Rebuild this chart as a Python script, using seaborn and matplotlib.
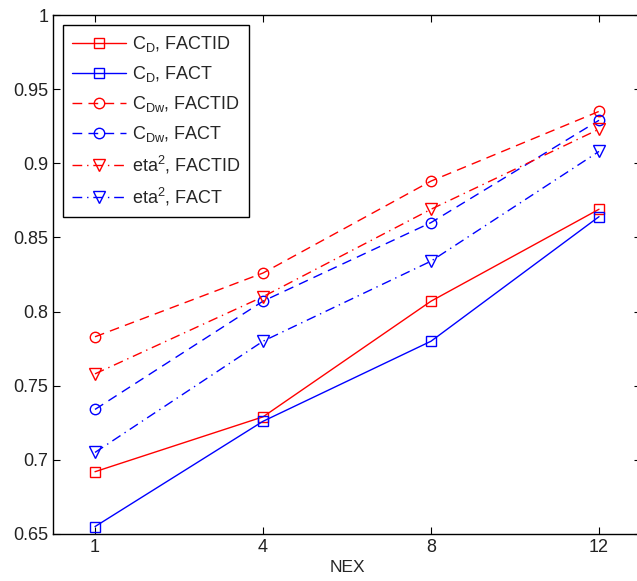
import numpy as np
import pandas as pd
import matplotlib
matplotlib.use("Agg")
import matplotlib.pyplot as plt
import seaborn as sns
from matplotlib.ticker import FuncFormatter

sns.set_theme(style="white")
plt.rcParams['font.family'] = ['Liberation Sans', 'DejaVu Sans']
plt.rcParams['mathtext.fontset'] = 'custom'
plt.rcParams['mathtext.rm'] = 'Liberation Sans'
plt.rcParams['mathtext.it'] = 'Liberation Sans'

nex_labels = ["1", "4", "8", "12"]
cd_factid = [0.692, 0.729, 0.807, 0.869]
cd_fact = [0.655, 0.726, 0.780, 0.864]
cdw_factid = [0.783, 0.826, 0.888, 0.935]
cdw_fact = [0.734, 0.807, 0.860, 0.929]
eta_factid = [0.758, 0.810, 0.869, 0.923]
eta_fact = [0.705, 0.780, 0.834, 0.908]

series = [
    (r"C$_\mathrm{D}$, FACTID", cd_factid, "#ff0000", "s", "-", 7.5),
    (r"C$_\mathrm{D}$, FACT", cd_fact, "#0000ff", "s", "-", 7.5),
    (r"C$_\mathrm{Dw}$, FACTID", cdw_factid, "#ff0000", "o", (0, (7, 4.5)), 7.5),
    (r"C$_\mathrm{Dw}$, FACT", cdw_fact, "#0000ff", "o", (0, (7, 4.5)), 7.5),
    (r"eta$^\mathrm{2}$, FACTID", eta_factid, "#ff0000", "v", (0, (7, 3.5, 1, 3.5)), 9),
    (r"eta$^\mathrm{2}$, FACT", eta_fact, "#0000ff", "v", (0, (7, 3.5, 1, 3.5)), 9),
]

W, H = 637, 581
fig = plt.figure(figsize=(W / 100, H / 100), dpi=100)
ax = fig.add_axes([53 / W, (H - 534) / H, (641 - 53) / W, (534 - 15) / H])

pos = np.arange(len(nex_labels))
for label, vals, color, marker, ls, ms in series:
    df = pd.DataFrame({"x": pos, "y": vals})
    sns.lineplot(data=df, x="x", y="y", ax=ax, color=color, marker=marker,
                 linestyle=ls, linewidth=1.0, markersize=ms,
                 markerfacecolor="none", markeredgecolor=color,
                 markeredgewidth=1.0, label=label)

ax.set_xlim(-0.25, 3.25)
ax.set_ylim(0.65, 1.0)
ax.set_xticks(pos)
ax.set_xticklabels(nex_labels)
ax.set_yticks(np.arange(0.65, 1.0001, 0.05))
ax.yaxis.set_major_formatter(FuncFormatter(lambda v, p: "%g" % round(v, 2)))
ax.set_xlabel("NEX", fontsize=12.5, labelpad=3)
ax.set_ylabel("")
ax.tick_params(direction="in", length=5, width=0.8, labelsize=13,
               top=True, right=True, bottom=True, left=True, colors="black",
               labelcolor="#222222")
for s in ax.spines.values():
    s.set_color("black")
    s.set_linewidth(1.0)

leg = ax.legend(loc="upper left", bbox_to_anchor=(10 / 588, 1 - 10 / 519),
                borderaxespad=0, fontsize=13, handlelength=3.0,
                handletextpad=0.3, labelspacing=0.55, borderpad=0.5,
                fancybox=False, framealpha=1, edgecolor="black")
leg.get_frame().set_linewidth(1.0)

fig.savefig("out.png", dpi=100)
